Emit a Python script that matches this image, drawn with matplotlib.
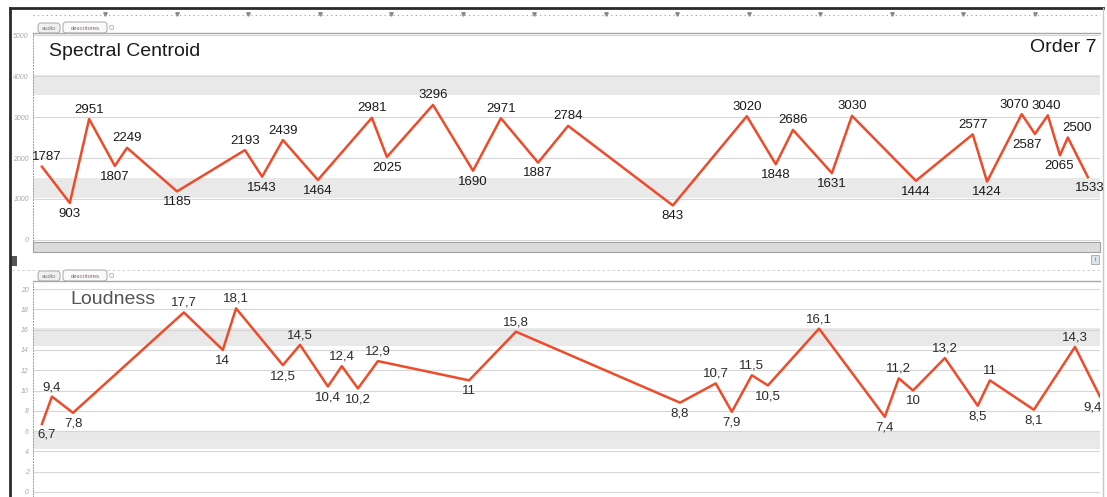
import matplotlib.pyplot as plt
from matplotlib.patches import FancyBboxPatch, Rectangle

plt.rcParams['font.family'] = ['Liberation Sans', 'DejaVu Sans']

W, H = 1107, 497
RED = '#ee4b2b'

# time in seconds (ruler marks every 2 s)
centroid_t = [0.25, 1.03, 1.57, 2.29, 2.63, 4.03, 5.93, 6.41, 6.99, 7.97,
              9.48, 9.90, 11.19, 12.31, 13.09, 14.13, 14.97, 17.90, 19.97,
              20.78, 21.26, 22.35, 22.91, 24.70, 26.29, 26.69, 27.66, 28.03,
              28.39, 28.73, 28.95, 29.51]
centroid_hz = [1787, 903, 2951, 1807, 2249, 1185, 2193, 1543, 2439, 1464,
               2981, 2025, 3296, 1690, 2971, 1887, 2784, 843, 3020,
               1848, 2686, 1631, 3030, 1444, 2577, 1424, 3070, 2587,
               3040, 2065, 2500, 1533]

loud_t = [0.25, 0.53, 1.12, 4.22, 5.31, 5.68, 6.99, 7.47, 8.25, 8.64,
          9.09, 9.65, 12.20, 13.51, 18.10, 19.10, 19.55, 20.11, 20.56,
          21.99, 23.83, 24.22, 24.62, 25.51, 26.43, 26.77, 28.00, 29.15,
          29.85]
loud_val = [6.7, 9.4, 7.8, 17.7, 14, 18.1, 12.5, 14.5, 10.4, 12.4,
            10.2, 12.9, 11, 15.8, 8.8, 10.7, 7.9, 11.5, 10.5,
            16.1, 7.4, 11.2, 10, 13.2, 8.5, 11, 8.1, 14.3,
            9.4]

centroid_ticks = [0, 1000, 2000, 3000, 4000, 5000]
loud_ticks = [0, 2, 4, 6, 8, 10, 12, 14, 16, 18, 20]

X_MAX = 29.85
PX_PER_SEC = 1067 / X_MAX
LABEL_FS = 9.5


def px_rect(left, top, right, bottom):
    return [left / W, 1 - bottom / H, (right - left) / W, (bottom - top) / H]


def text_width(s):
    # rough width in pixels of a number label
    em = LABEL_FS * 100 / 72
    return sum(0.278 * em if ch == ',' else 0.556 * em for ch in s)


def spread(centers, widths, gap=2):
    # nudge label centres apart so neighbours on one side don't overlap
    c = list(centers)
    for _ in range(60):
        for a in range(len(c) - 1):
            need = (widths[a] + widths[a + 1]) / 2 + gap
            over = need - (c[a + 1] - c[a])
            if over > 0:
                c[a] -= over / 2
                c[a + 1] += over / 2
    return c


def draw_panel(ax, t, vals, ylim, ticks, bands, band_h, fmt, label_color):
    ax.set_xlim(0, X_MAX)
    ax.set_ylim(*ylim)
    for c in bands:
        ax.axhspan(c - band_h, c + band_h, color='#e9e9e9', lw=0, zorder=0)
    ax.set_yticks(ticks)
    ax.set_yticklabels([str(k) for k in ticks], fontsize=5, color='#a8a8a8',
                       style='italic')
    ax.tick_params(axis='y', length=0, pad=3)
    ax.set_xticks([])
    ax.yaxis.grid(True, color='#d6d6d6', lw=0.8, zorder=1)
    ax.set_axisbelow(True)
    for s in ['top', 'right', 'bottom']:
        ax.spines[s].set_visible(False)
    ax.spines['left'].set_linestyle((0, (1, 2)))
    ax.spines['left'].set_color('#9a9a9a')
    ax.spines['left'].set_linewidth(0.7)
    ax.plot(t, vals, color=RED, lw=1.8, zorder=5)

    n = len(vals)
    labels = [fmt(v) for v in vals]
    peaks = []
    for i, y in enumerate(vals):
        neigh = []
        if i > 0:
            neigh.append(vals[i - 1])
        if i < n - 1:
            neigh.append(vals[i + 1])
        peaks.append(all(y > v for v in neigh))
    base = [x * PX_PER_SEC for x in t]
    centers = list(base)
    centers[0] += 5
    centers[-1] -= 7
    for side in (True, False):
        idx = [i for i in range(n) if peaks[i] == side]
        moved = spread([centers[i] for i in idx], [text_width(labels[i]) for i in idx])
        for i, c in zip(idx, moved):
            centers[i] = c

    for i, (x, y) in enumerate(zip(t, vals)):
        dx = (centers[i] - base[i]) * 0.72
        if peaks[i]:
            ax.annotate(labels[i], (x, y), xytext=(dx, 2.5), textcoords='offset points',
                        ha='center', va='bottom', fontsize=LABEL_FS, color=label_color,
                        zorder=6, annotation_clip=False)
        else:
            ax.annotate(labels[i], (x, y), xytext=(dx, -3.5), textcoords='offset points',
                        ha='center', va='top', fontsize=LABEL_FS, color=label_color,
                        zorder=6, annotation_clip=False)


fig = plt.figure(figsize=(W / 100, H / 100), dpi=100)

# window chrome drawn in pixel coordinates
bg = fig.add_axes([0, 0, 1, 1])
bg.set_xlim(0, W)
bg.set_ylim(H, 0)
bg.axis('off')
bg.plot([10, 10], [8, H], color='#2a2a2a', lw=2)
bg.plot([10, 1103], [8, 8], color='#2a2a2a', lw=2)
bg.plot([1103, 1103], [8, H], color='#c8c8c8', lw=1)
bg.plot([33, 1100], [15, 15], color='#9a9a9a', lw=0.8, ls=(0, (1, 3)))
for k in range(15):
    xm = 105 + 71.5 * k
    if xm < 1100:
        bg.plot([xm], [14], marker='v', ms=2.5, color='#8a8a8a')
# scrollbar between panels
bg.add_patch(Rectangle((33, 242), 1067, 10, fc='#dcdcdc', ec='#a0a0a0', lw=0.8))
bg.plot([12, 1100], [270, 270], color='#c8c8c8', lw=0.6, ls=(0, (3, 3)))
bg.add_patch(Rectangle((11, 256), 6, 10, fc='#555555', ec='none'))
bg.add_patch(Rectangle((1091, 255), 8, 9, fc='#dde3ea', ec='#a0a8b0', lw=0.6))
bg.text(1095, 259.5, 'i', fontsize=4.5, color='#5a6a80', ha='center', va='center')


def tabs(y):
    bg.plot([33, 1100], [y + 11, y + 11], color='#a8a8a8', lw=1)
    bg.add_patch(FancyBboxPatch((38, y + 1), 22, 10, boxstyle='round,pad=0,rounding_size=3',
                                fc='#f0f0f0', ec='#a8a8a8', lw=0.7))
    bg.add_patch(FancyBboxPatch((63, y), 44, 11, boxstyle='round,pad=0,rounding_size=3',
                                fc='#fafafa', ec='#a8a8a8', lw=0.7))
    bg.text(49, y + 6.5, 'audio', fontsize=4.2, color='#777777', ha='center', va='center')
    bg.text(85, y + 6, 'descritores', fontsize=4.2, color='#8a6060', ha='center', va='center')
    bg.plot([111], [y + 5], marker='o', ms=3, mfc='none', mec='#b0b0b0', mew=0.6)


tabs(22)
tabs(270)

ax1 = fig.add_axes(px_rect(33, 33, 1100, 241))
ax1.patch.set_alpha(0)
draw_panel(ax1, centroid_t, centroid_hz, (-25, 5050), centroid_ticks,
           [3780, 1270], 250, lambda v: f'{v:d}', '#1a1a1a')

ax2 = fig.add_axes(px_rect(33, 283, 1100, 497))
ax2.patch.set_alpha(0)
draw_panel(ax2, loud_t, loud_val, (-0.5, 20.6), loud_ticks,
           [15.3, 5.1], 0.9, lambda v: f'{v:g}'.replace('.', ','), '#2a2a2a')

bg.text(49, 51, 'Spectral Centroid', fontsize=14, color='#1a1a1a', va='center', ha='left')
bg.text(1096, 47, 'Order 7', fontsize=14, color='#1a1a1a', va='center', ha='right')
bg.text(70, 299, 'Loudness', fontsize=14, color='#555555', va='center', ha='left')

fig.savefig('out.png', dpi=100)
